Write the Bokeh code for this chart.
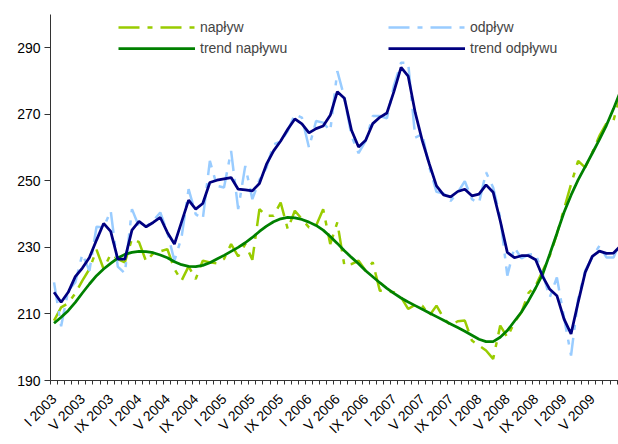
import math
from bokeh.plotting import figure
from bokeh.models import Range1d, FixedTicker, Legend, LegendItem, ColumnDataSource
from bokeh.embed import file_html
from bokeh.resources import INLINE

# month index: 0 = I 2003, 1 = II 2003, ...
months = list(range(81))

naplyw = [208, 212, 213.2, 216.2, 220, 223.5, 229.3, 223.5, 228, 226.5,
          225.5, 232.6, 231.6, 225.8, 228.2, 228.8, 229.5, 223.5, 220, 224.3,
          220.5, 226, 225.5, 225.2, 226.5, 231, 227.3, 231, 226.3, 241.5,
          239.5, 239.5, 243.5, 235.5, 241, 238.5, 236, 236.5, 241.5, 231,
          237.5, 224.5, 225, 226, 223, 225.5, 217, 216.8, 216.5, 215,
          211.5, 212.8, 212.5, 209.5, 212.5, 208.8, 206.5, 207.8, 208, 202,
          200.5, 199, 196.5, 206.5, 203, 207.5, 210.5, 216.3, 218.5, 223,
          227.5, 234, 241.5, 249, 256, 254, 258.5, 263.5, 267.3, 268.2,
          276]

odplyw = [219.5, 206.3, 217, 219.5, 228, 223, 236.2, 236, 241, 224.2,
          222.2, 241.5, 236.2, 236.2, 238, 240.5, 234.5, 226, 233, 247.5,
          240, 238.5, 256, 248.5, 248, 259, 241.5, 254.5, 244.5, 250.3,
          254, 261, 261.8, 265, 270, 269, 260, 268, 267.5, 265,
          283, 275, 263.5, 258.3, 262, 269.5, 269.5, 268.8, 278.7, 285.5,
          285.5, 263, 264, 254, 246.7, 246.2, 244, 246.5, 249.9, 244.5,
          243.3, 252.6, 248, 239, 221.5, 230, 226.7, 227.8, 228.1, 222,
          215, 221, 209, 197.5, 214.5, 223, 227, 230.5, 227, 227,
          232]

trend_naplywu = [207.2, 209, 211, 213.5, 216.3, 219, 221.5, 223.5, 225.2, 226.8,
                 227.9, 228.5, 228.8, 228.7, 228.4, 227.7, 226.9, 225.7, 224.8, 224.3,
                 224.2, 224.6, 225.4, 226.5, 227.6, 228.8, 230.0, 231.4, 233.0, 234.8,
                 236.4, 237.7, 238.6, 239.0, 238.9, 238.4, 237.6, 236.6, 235.2, 233.3,
                 231.2, 229.0, 227.0, 225.1, 223.0, 221.2, 219.4, 217.7, 216.2, 214.8,
                 213.6, 212.5, 211.4, 210.3, 209.2, 208.1, 207.0, 205.9, 204.8, 203.6,
                 202.4, 201.7, 201.7, 203.0, 205.0, 207.8, 210.6, 214.0, 217.8, 222.0,
                 228.0, 234.2, 240.5, 245.7, 250.3, 254.3, 258.3, 262.4, 266.7, 271.7,
                 277.0]

trend_odplywu = [216.5, 213.5, 216.5, 221.2, 223.8, 227, 232.2, 237.2, 234.8, 226.5,
                 226.5, 235.2, 237.8, 236.2, 237.5, 239, 234.5, 231, 237.6, 244.2,
                 241.5, 243.2, 249.5, 250.2, 250.6, 251, 247.5, 247.3, 247, 249.2,
                 255, 259, 262, 265.5, 268.6, 267.1, 264.4, 265.7, 266.5, 269.7,
                 276.8, 274.8, 265.2, 260.2, 262.2, 267.2, 269.1, 270.4, 276.9, 284.1,
                 281.5, 270.5, 262, 255, 248.5, 245.8, 245.2, 246.8, 247.5, 245.5,
                 246, 248.8, 246.6, 238, 228.5, 226.9, 227.5, 227.5, 226.3, 221.2,
                 217.4, 215.5, 208.5, 204, 213.5, 222.5, 227.3, 228.9, 228.2, 228.3,
                 230.5]

tick_months = [0, 4, 8, 12, 16, 20, 24, 28, 32, 36, 40, 44, 48, 52, 56, 60, 64, 68, 72, 76, 80]
tick_labels = ["I 2003", "V 2003", "IX 2003", "I 2004", "V 2004", "IX 2004",
               "I 2005", "V 2005", "IX 2005", "I 2006", "V 2006", "IX 2006",
               "I 2007", "V 2007", "IX 2007", "I 2008", "V 2008", "IX 2008",
               "I 2009", "V 2009", "IX 2009"]
y_ticks = [190, 210, 230, 250, 270, 290]

FONT = "Liberation Sans"

src = ColumnDataSource(dict(m=months, n=naplyw, o=odplyw, tn=trend_naplywu, to=trend_odplywu))

p = figure(width=618, height=444, output_backend="svg", toolbar_location=None,
           x_range=Range1d(-0.5, 79.7), y_range=Range1d(190, 300),
           min_border_left=50, min_border_right=0, min_border_top=14, min_border_bottom=64)
p.outline_line_color = None
p.xgrid.visible = False
p.ygrid.visible = False
p.background_fill_color = "white"

r_n = p.line("m", "n", source=src, line_color="#99CC00", line_width=2.5, line_dash="21 8 5 8")
r_o = p.line("m", "o", source=src, line_color="#99CCFF", line_width=2.5, line_dash="21 8 5 8")
r_tn = p.line("m", "tn", source=src, line_color="#008000", line_width=2.75)
r_to = p.line("m", "to", source=src, line_color="#000080", line_width=2.75)

# y axis
ya = p.yaxis[0]
ya.ticker = FixedTicker(ticks=y_ticks)
ya.major_tick_out = 6
ya.major_tick_in = 0
ya.minor_tick_line_color = None
ya.axis_line_color = "#333333"
ya.major_tick_line_color = "#333333"
ya.major_label_text_font = FONT
ya.major_label_text_font_size = "14px"
ya.major_label_text_color = "#000000"
ya.major_label_standoff = 4

# x axis
xa = p.xaxis[0]
xa.ticker = FixedTicker(ticks=tick_months, minor_ticks=[m - 0.5 for m in range(82)])
xa.major_label_overrides = {m: lab for m, lab in zip(tick_months, tick_labels)}
xa.major_tick_line_color = None
xa.minor_tick_out = 4
xa.minor_tick_in = 0
xa.minor_tick_line_color = "#333333"
xa.axis_line_color = "#333333"
xa.major_label_orientation = math.pi / 4
xa.major_label_text_font = FONT
xa.major_label_text_font_size = "14px"
xa.major_label_text_color = "#000000"
xa.major_label_standoff = 10


def make_legend(items, loc):
    lg = Legend(items=items, location=loc, orientation="vertical",
                padding=0, margin=0, spacing=5, glyph_width=77, glyph_height=16,
                label_height=16, label_standoff=5,
                label_text_font=FONT, label_text_font_size="14px",
                border_line_alpha=0, background_fill_alpha=0)
    return lg

leg1 = make_legend([LegendItem(label="napływ", renderers=[r_n]),
                    LegendItem(label="trend napływu", renderers=[r_tn])], (68, 324))
leg2 = make_legend([LegendItem(label="odpływ", renderers=[r_o]),
                    LegendItem(label="trend odpływu", renderers=[r_to])], (338, 324))
p.add_layout(leg1, "center")
p.add_layout(leg2, "center")

open("out.html", "w").write(file_html(p, INLINE))
